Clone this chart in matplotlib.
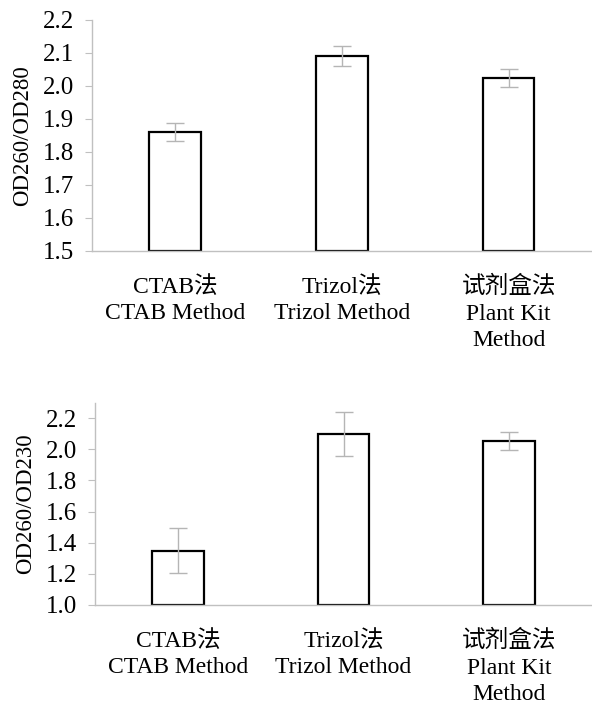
import matplotlib
matplotlib.use("Agg")
import matplotlib.pyplot as plt

# data
methods = ["CTAB法\nCTAB Method", "Trizol法\nTrizol Method", "试剂盒法\nPlant Kit\nMethod"]
ratio_280 = [1.86, 2.09, 2.025]
err_280 = [0.027, 0.03, 0.027]
ratio_230 = [1.35, 2.10, 2.055]
err_230 = [0.143, 0.143, 0.058]

plt.rcParams['font.family'] = ['Liberation Serif', 'Noto Sans CJK SC']
plt.rcParams['font.size'] = 17

fig = plt.figure(figsize=(5.92, 7.06), dpi=100)
ax1 = fig.add_axes([0.1554, 0.6445, 0.8446, 0.3272])
ax2 = fig.add_axes([0.1605, 0.1431, 0.8395, 0.2865])

panels = [
    (ax1, ratio_280, err_280, 'OD260/OD280', (1.5, 2.2), [1.5, 1.6, 1.7, 1.8, 1.9, 2.0, 2.1, 2.2]),
    (ax2, ratio_230, err_230, 'OD260/OD230', (1.0, 2.3), [1.0, 1.2, 1.4, 1.6, 1.8, 2.0, 2.2]),
]

x = range(len(methods))
for ax, vals, errs, label, ylim, yticks in panels:
    ax.bar(x, [v - ylim[0] for v in vals], bottom=ylim[0], width=0.31,
           color='white', edgecolor='black', linewidth=1.6, zorder=2)
    ax.errorbar(x, vals, yerr=errs, fmt='none', ecolor='#b5b5b5',
                elinewidth=1.0, capsize=6.5, capthick=1.0, zorder=3)
    ax.set_xlim(-0.5, 2.5)
    ax.set_ylim(*ylim)
    ax.set_yticks(yticks)
    ax.set_yticklabels(['%.1f' % t for t in yticks], fontsize=18)
    ax.set_xticks(list(x))
    ax.set_xticklabels(methods, linespacing=1.35, multialignment='center')
    ax.set_ylabel(label, fontsize=16.5, labelpad=7)
    for s in ['top', 'right']:
        ax.spines[s].set_visible(False)
    for s in ['left', 'bottom']:
        ax.spines[s].set_color('#c0c0c0')
        ax.spines[s].set_linewidth(1.0)
    ax.tick_params(axis='y', direction='out', length=5, color='#c0c0c0', pad=8)
    ax.tick_params(axis='x', length=0, pad=18)

fig.savefig('out.png', dpi=100, facecolor='white')
